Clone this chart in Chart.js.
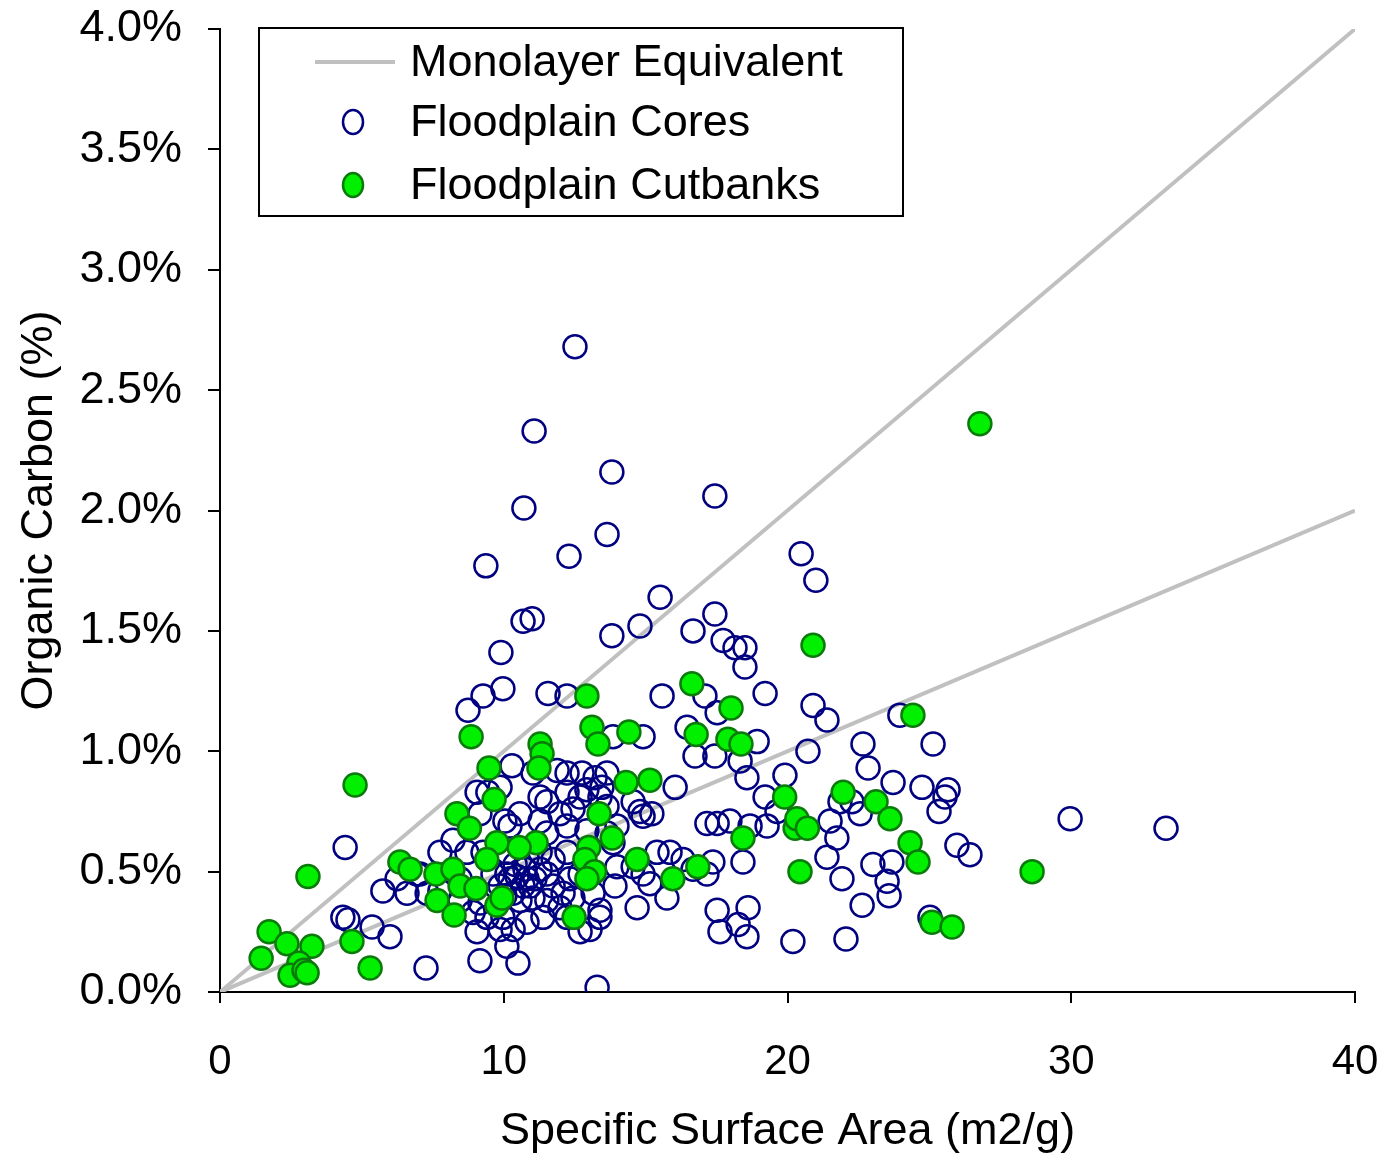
<!DOCTYPE html>
<html>
<head>
<meta charset="utf-8">
<script src="https://cdn.jsdelivr.net/npm/chart.js@4.4.0/dist/chart.umd.min.js"></script>
<style>
  html, body { margin: 0; padding: 0; background: #fff; }
</style>
</head>
<body>
<canvas id="scatterChart" width="1381" height="1155"></canvas>
<script>
// monolayer equivalent reference lines (end points)
const monolayerX = [0, 40];
const monolayerHigh = [0, 4.0];
const monolayerLow = [0, 2.0];

// Floodplain cores: specific surface area (m2/g) and organic carbon (%)
const coresX = [
  12.51, 11.07, 13.81, 10.71, 17.44, 13.64, 12.30, 9.37, 20.48, 21.00,
  15.51, 17.44, 10.68, 11.00, 14.80, 13.81, 16.67, 17.73, 18.15, 18.50,
  18.50, 9.90, 9.97, 9.27, 8.74, 11.56, 12.23, 15.58, 17.09, 19.21,
  20.90, 21.39, 17.52, 16.46, 23.96, 22.66, 25.13, 20.72, 18.93, 22.84,
  19.91, 16.74, 17.44, 18.33, 18.57, 16.04, 14.91, 13.85, 23.72, 24.74,
  25.66, 25.55, 25.34, 19.21, 19.63, 17.16, 17.52, 17.97, 18.68, 19.28,
  21.50, 21.74, 21.85, 22.27, 22.56, 21.39, 21.92, 23.01, 23.68, 23.51,
  23.58, 22.63, 25.97, 26.43, 25.02, 22.06, 20.19, 29.96, 33.34, 18.57,
  18.26, 17.62, 18.61, 17.52, 17.16, 17.37, 18.43, 15.75, 15.15, 15.40,
  15.86, 16.32, 16.67, 14.70, 13.92, 13.29, 13.39, 13.04, 12.69, 10.50,
  10.11, 9.16, 7.26, 5.99, 5.36, 4.33, 4.51, 4.41, 5.74, 6.24,
  7.30, 7.05, 7.75, 8.46, 9.06, 10.29, 11.88, 12.23, 12.76, 13.22,
  13.64, 13.46, 11.03, 9.44, 9.87, 11.28, 11.52, 12.23, 12.69, 12.93,
  13.39, 13.64, 11.98, 12.44, 14.56, 9.16, 10.04, 10.57, 10.22, 11.28,
  11.52, 12.23, 12.93, 13.64, 13.99, 14.91, 14.80, 15.22, 8.21, 8.70,
  9.27, 10.11, 10.82, 11.28, 11.74, 12.23, 12.69, 13.85, 13.99, 14.56,
  14.91, 9.62, 10.11, 10.47, 10.82, 9.87, 10.33, 10.68, 11.03, 11.28,
  11.52, 11.74, 12.09, 12.33, 6.94, 6.59, 7.75, 8.46, 9.16, 11.52,
  11.98, 12.44, 13.39, 13.15, 8.92, 9.41, 9.97, 10.33, 9.87, 10.82,
  11.38, 12.23, 9.06, 10.40, 10.75, 10.93, 10.57, 11.10, 10.22, 10.04
];
const coresY = [
  2.68, 2.33, 2.16, 2.01, 2.06, 1.90, 1.81, 1.77, 1.82, 1.71,
  1.64, 1.57, 1.54, 1.55, 1.52, 1.48, 1.50, 1.46, 1.43, 1.43,
  1.35, 1.41, 1.26, 1.23, 1.17, 1.24, 1.23, 1.23, 1.23, 1.24,
  1.19, 1.13, 1.16, 1.10, 1.15, 1.03, 1.03, 1.00, 1.04, 0.93,
  0.90, 0.98, 0.98, 0.96, 0.89, 0.85, 1.06, 1.06, 0.87, 0.85,
  0.84, 0.81, 0.75, 0.81, 0.75, 0.70, 0.70, 0.71, 0.69, 0.69,
  0.71, 0.64, 0.79, 0.79, 0.74, 0.56, 0.47, 0.53, 0.54, 0.46,
  0.40, 0.36, 0.61, 0.57, 0.31, 0.22, 0.21, 0.72, 0.68, 0.23,
  0.28, 0.25, 0.35, 0.34, 0.49, 0.54, 0.54, 0.39, 0.45, 0.58,
  0.58, 0.55, 0.51, 0.35, 0.44, 0.02, 0.31, 0.26, 0.25, 0.12,
  0.19, 0.13, 0.10, 0.23, 0.27, 0.31, 0.30, 0.60, 0.42, 0.47,
  0.41, 0.49, 0.58, 0.47, 0.83, 0.94, 0.92, 0.91, 0.91, 0.89,
  0.91, 0.85, 0.91, 0.83, 0.85, 0.81, 0.79, 0.83, 0.81, 0.84,
  0.81, 0.77, 0.74, 0.76, 0.79, 0.74, 0.71, 0.74, 0.69, 0.71,
  0.66, 0.69, 0.67, 0.66, 0.69, 0.73, 0.75, 0.74, 0.63, 0.58,
  0.58, 0.58, 0.56, 0.58, 0.55, 0.58, 0.49, 0.62, 0.52, 0.52,
  0.49, 0.49, 0.49, 0.48, 0.47, 0.44, 0.41, 0.44, 0.39, 0.51,
  0.49, 0.44, 0.41, 0.47, 0.49, 0.41, 0.42, 0.38, 0.37, 0.38,
  0.35, 0.39, 0.34, 0.41, 0.33, 0.31, 0.31, 0.26, 0.26, 0.29,
  0.31, 0.31, 0.25, 0.53, 0.51, 0.44, 0.38, 0.47, 0.47, 0.40
];

// Floodplain cutbanks
const cutbanksX = [
  26.78, 20.90, 24.42, 16.63, 18.01, 12.93, 13.11, 13.32, 14.41, 16.78,
  17.90, 18.36, 11.28, 11.35, 11.24, 8.85, 9.48, 4.76, 14.31, 15.15,
  9.66, 8.35, 8.79, 13.36, 13.82, 11.14, 10.54, 9.76, 9.40, 13.00,
  12.86, 13.20, 12.93, 14.70, 15.96, 16.84, 18.43, 19.90, 20.27, 20.33,
  20.70, 20.44, 21.96, 23.12, 23.61, 24.32, 24.60, 25.09, 25.80, 28.62,
  6.34, 6.70, 7.61, 8.21, 7.65, 8.25, 8.46, 9.02, 9.76, 9.94,
  12.48, 3.10, 4.65, 5.29, 1.73, 1.45, 2.36, 3.24, 2.78, 2.47,
  2.96, 3.07
];
const cutbanksY = [
  2.36, 1.44, 1.15, 1.28, 1.18, 1.23, 1.10, 1.03, 1.08, 1.07,
  1.05, 1.03, 1.03, 0.99, 0.93, 1.06, 0.93, 0.86, 0.87, 0.88,
  0.80, 0.74, 0.68, 0.74, 0.64, 0.62, 0.60, 0.62, 0.55, 0.60,
  0.55, 0.50, 0.47, 0.55, 0.47, 0.52, 0.64, 0.81, 0.68, 0.72,
  0.68, 0.50, 0.83, 0.79, 0.72, 0.62, 0.54, 0.29, 0.27, 0.50,
  0.54, 0.51, 0.49, 0.51, 0.38, 0.32, 0.44, 0.43, 0.36, 0.39,
  0.31, 0.48, 0.21, 0.10, 0.25, 0.14, 0.20, 0.19, 0.12, 0.07,
  0.09, 0.08
];

const xTicks = [0, 10, 20, 30, 40];
const FONT = "'Liberation Sans', Arial, sans-serif";

function toPoints(xs, ys) {
  return xs.map((x, i) => ({ x: x, y: ys[i] }));
}

// boxed legend drawn inside the plot, top left
const boxLegend = {
  id: 'boxLegend',
  afterDraw(chart) {
    const ctx = chart.ctx;
    const ds = chart.data.datasets;
    const items = [ds[2], ds[1], ds[0]];
    const left = 259, top = 28, w = 644, h = 188;
    ctx.save();
    ctx.fillStyle = '#fff';
    ctx.fillRect(left, top, w, h);
    ctx.strokeStyle = '#000';
    ctx.lineWidth = 2;
    ctx.strokeRect(left, top, w, h);
    ctx.font = '45px ' + FONT;
    ctx.textBaseline = 'middle';
    ctx.fillStyle = '#000';
    const rows = [62, 122, 185];
    items.forEach((d, i) => {
      const y = rows[i];
      if (d.showLine) {
        ctx.strokeStyle = d.borderColor;
        ctx.lineWidth = d.borderWidth;
        ctx.beginPath();
        ctx.moveTo(315, y);
        ctx.lineTo(395, y);
        ctx.stroke();
      } else {
        ctx.beginPath();
        ctx.ellipse(353, y, 10, 12, 0, 0, Math.PI * 2);
        ctx.fillStyle = d.backgroundColor;
        ctx.fill();
        ctx.strokeStyle = d.borderColor;
        ctx.lineWidth = 2.5;
        ctx.stroke();
      }
      ctx.fillStyle = '#000';
      ctx.fillText(d.label, 410, y + 2);
    });
    ctx.restore();
  }
};

new Chart(document.getElementById('scatterChart'), {
  type: 'scatter',
  data: {
    datasets: [
      {
        label: 'Floodplain Cutbanks',
        data: toPoints(cutbanksX, cutbanksY),
        backgroundColor: '#00F000',
        borderColor: '#0A7A0A',
        borderWidth: 2.5,
        pointRadius: 11.5,
        order: 0
      },
      {
        label: 'Floodplain Cores',
        data: toPoints(coresX, coresY),
        backgroundColor: 'rgba(0,0,0,0)',
        borderColor: '#000080',
        borderWidth: 2.5,
        pointRadius: 11.5,
        order: 1
      },
      {
        label: 'Monolayer Equivalent',
        data: toPoints(monolayerX, monolayerHigh),
        showLine: true,
        borderColor: '#C0C0C0',
        borderWidth: 4,
        pointRadius: 0,
        order: 2
      },
      {
        label: 'Monolayer Equivalent',
        data: toPoints(monolayerX, monolayerLow),
        showLine: true,
        borderColor: '#C0C0C0',
        borderWidth: 4,
        pointRadius: 0,
        order: 2
      }
    ]
  },
  options: {
    responsive: false,
    animation: false,
    devicePixelRatio: 1,
    layout: { padding: { top: 29, right: 26, left: 0, bottom: 0 } },
    plugins: {
      legend: { display: false },
      tooltip: { enabled: false }
    },
    scales: {
      x: {
        type: 'linear',
        min: 0,
        max: 40,
        afterBuildTicks: (scale) => { scale.ticks = xTicks.map(v => ({ value: v })); },
        afterFit: (scale) => {
          scale.height = 163;
          scale.paddingLeft = 0;
          scale.paddingRight = 0;
        },
        ticks: { color: '#000', font: { family: FONT, size: 42 }, padding: 34, maxRotation: 0 },
        grid: { drawOnChartArea: false, drawTicks: true, tickLength: 11, color: '#000', lineWidth: 2 },
        border: { display: true, color: '#000', width: 2 },
        title: {
          display: true,
          text: 'Specific Surface Area (m2/g)',
          color: '#000',
          font: { family: FONT, size: 45 },
          padding: { top: 0, bottom: -4 }
        }
      },
      y: {
        type: 'linear',
        min: 0,
        max: 4,
        afterFit: (scale) => {
          scale.width = 220;
          scale.paddingTop = 0;
          scale.paddingBottom = 0;
        },
        ticks: {
          stepSize: 0.5,
          color: '#000',
          font: { family: FONT, size: 45 },
          padding: 26,
          callback: (v) => v.toFixed(1) + '%'
        },
        grid: { drawOnChartArea: false, drawTicks: true, tickLength: 12, color: '#000', lineWidth: 2 },
        border: { display: true, color: '#000', width: 2 },
        title: {
          display: true,
          text: 'Organic Carbon (%)',
          color: '#000',
          font: { family: FONT, size: 45 },
          padding: { top: 13, bottom: 0 }
        }
      }
    }
  },
  plugins: [boxLegend]
});
</script>
</body>
</html>
